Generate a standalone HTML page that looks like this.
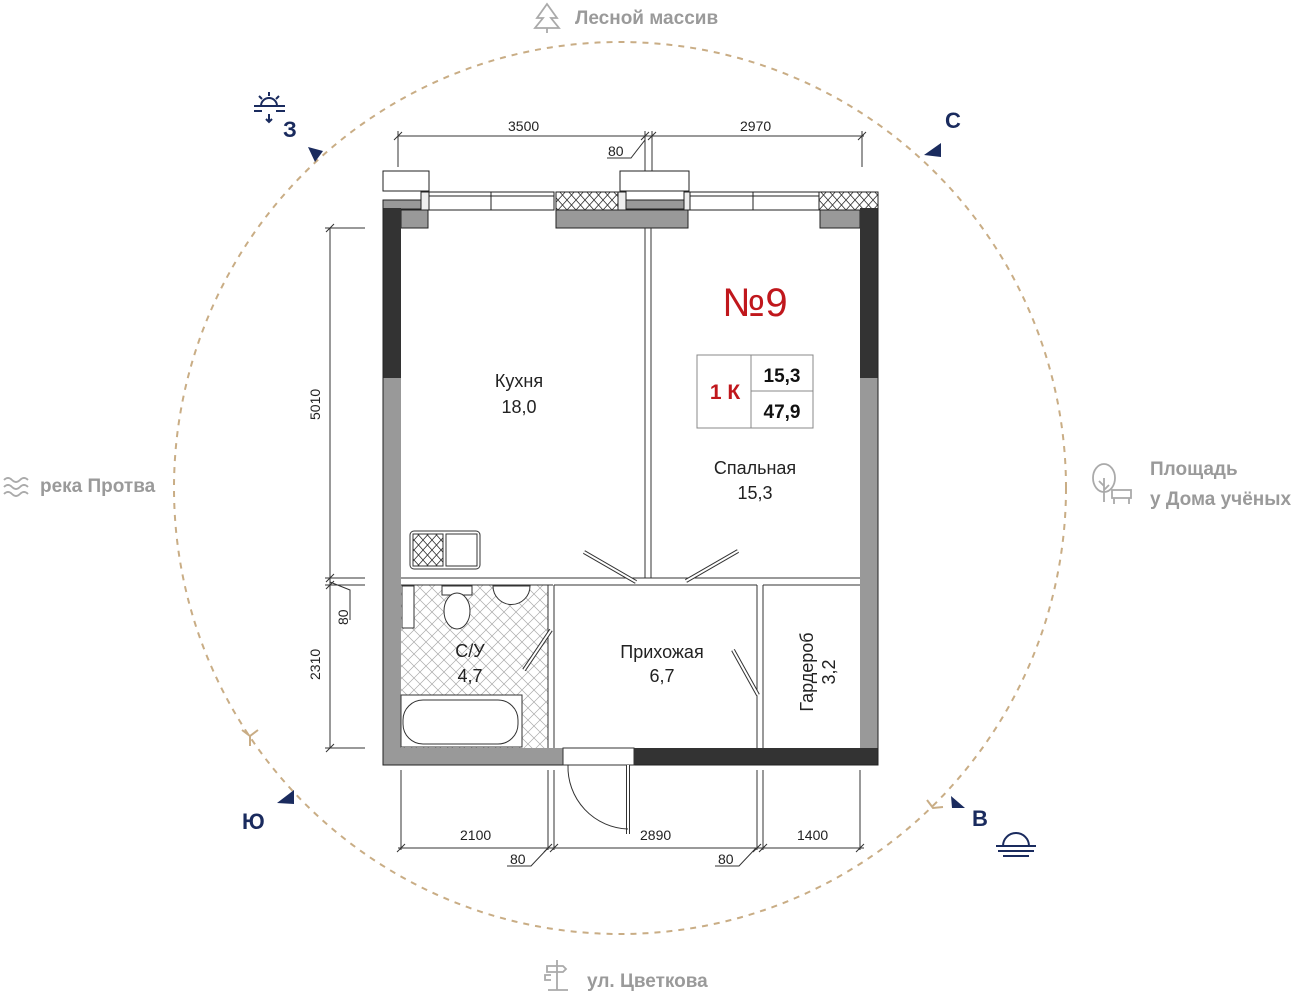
<!DOCTYPE html>
<html><head><meta charset="utf-8"><style>
html,body{margin:0;padding:0;background:#fff;width:1300px;height:995px;overflow:hidden}
svg{display:block}
.lbl{font-family:"Liberation Sans","DejaVu Sans",sans-serif}
</style></head><body>
<svg width="1300" height="995" viewBox="0 0 1300 995" xmlns="http://www.w3.org/2000/svg" class="lbl">
<defs>
<pattern id="hx" width="12" height="12" patternUnits="userSpaceOnUse">
<path d="M0 0L12 12M12 0L0 12" stroke="#aaa" stroke-width="0.7"/>
</pattern>
<pattern id="wx" width="9" height="10" patternUnits="userSpaceOnUse">
<path d="M0 0L9 10M9 0L0 10" stroke="#333" stroke-width="0.8"/>
</pattern>
</defs>
<circle cx="620" cy="488" r="446" fill="none" stroke="#c9ad85" stroke-width="2" stroke-dasharray="6 6"/>
<g fill="#9a9a9a" font-size="19" font-weight="bold">
<text x="575" y="24">Лесной массив</text>
<text x="40" y="492">река Протва</text>
<text x="1150" y="475">Площадь</text>
<text x="1150" y="505">у Дома учёных</text>
<text x="587" y="987">ул. Цветкова</text>
</g>
<g fill="none" stroke="#aaa" stroke-width="1.8">
<path d="M547 4l-10 14h6l-8 10h24l-8-10h6z"/><path d="M547 28v5"/>
<path d="M4 480q4-4 8 0t8 0t8 0M4 487q4-4 8 0t8 0t8 0M4 494q4-4 8 0t8 0t8 0"/>
<ellipse cx="1104" cy="478" rx="11" ry="14"/><path d="M1104 478v24M1104 486l-5-5M1104 490l5-5"/>
<rect x="1112" y="490" width="19" height="8"/><path d="M1114 498v6M1129 498v6"/>
<path d="M557 960v30M547 966h16l3 3-3 3h-16zM551 975h-6v5h6M548 990h20"/>
</g>
<g fill="#1a2b5e" font-weight="bold" font-size="22">
<text x="283" y="137">З</text>
<text x="945" y="128">С</text>
<text x="242" y="829">Ю</text>
<text x="972" y="826">В</text>
</g>
<g fill="#1a2b5e">
<path d="M308 147l15 4-8 11z"/>
<path d="M924 155l17-12 0 14z"/>
<path d="M277 803l17-13 0 14z"/>
<path d="M951 796l14 12h-13z"/>
</g>
<g stroke="#1a2b5e" stroke-width="2" fill="none">
<path d="M261 106a8 8 0 0116 0"/><path d="M254 106h31M254 111h8M276 111h9M269 92v4M259 96l3 3M279 96l-3 3M269 114v8M266 119l3 3 3-3"/>
<path d="M1003 846a13 13 0 0126 0M996 846h40M998 851h36M1003 856h26"/>
</g>
<g stroke="#c9ad85" stroke-width="2" fill="none"><path d="M242 730l8 6 8-6M250 736v10"/><path d="M927 800l6 8 10-1"/></g>

<g stroke="#333" stroke-width="1" fill="none">
<path d="M398 136h466M398 131v36M862 131v36M645 131v60M652 131v60"/>
<path d="M394 140l8-8M641 140l8-8M648 140l8-8M858 140l8-8"/>
<path d="M607 158h24l14-18"/>
<path d="M330 228v520M325 228h40M325 578h40M325 585h40M325 748h40"/>
<path d="M326 232l8-8M326 582l8-8M326 589l8-8M326 752l8-8"/>
<path d="M350 620v-30l-20-8"/>
<path d="M398 848h466M401 770v80M548 770v80M554 770v80M757 770v80M763 770v80M860 770v80"/>
<path d="M397 852l8-8M544 852l8-8M550 852l8-8M753 852l8-8M759 852l8-8M856 852l8-8"/>
<path d="M507 866h24l17-18M715 866h24l17-18"/>
</g>
<g fill="#222" font-size="14">
<text x="508" y="131">3500</text><text x="740" y="131">2970</text><text x="608" y="156">80</text>
<text x="460" y="840">2100</text><text x="640" y="840">2890</text><text x="797" y="840">1400</text>
<text x="510" y="864">80</text><text x="718" y="864">80</text>
<text transform="translate(320 420) rotate(-90)">5010</text>
<text transform="translate(320 680) rotate(-90)">2310</text>
<text transform="translate(348 625) rotate(-90)">80</text>
</g>

<g stroke="#222" stroke-width="1">
<rect x="383" y="171" width="46" height="20" fill="#fff"/>
<rect x="620" y="171" width="69" height="20" fill="#fff"/>
<rect x="383" y="200" width="40" height="9" fill="#999"/>
<rect x="625" y="200" width="60" height="9" fill="#999"/>
<rect x="429" y="192" width="125" height="18" fill="#fff"/>
<path d="M429 196h125M491 192v18"/>
<rect x="556" y="192" width="63" height="18" fill="url(#wx)"/>
<rect x="689" y="192" width="130" height="18" fill="#fff"/>
<path d="M689 196h130M753 192v18"/>
<rect x="819" y="192" width="59" height="18" fill="url(#wx)"/>
<rect x="421" y="192" width="8" height="18" fill="#eee"/><rect x="618" y="192" width="8" height="18" fill="#eee"/><rect x="684" y="192" width="6" height="18" fill="#eee"/>
<rect x="401" y="210" width="27" height="18" fill="#999"/>
<rect x="556" y="210" width="132" height="18" fill="#999"/>
<rect x="820" y="210" width="40" height="18" fill="#999"/>
</g>
<rect x="383" y="208" width="18" height="170" fill="#333"/>
<rect x="383" y="378" width="18" height="370" fill="#999"/>
<rect x="860" y="208" width="18" height="170" fill="#333"/>
<rect x="860" y="378" width="18" height="370" fill="#999"/>
<rect x="383" y="748" width="180" height="17" fill="#999"/>
<rect x="634" y="748" width="244" height="17" fill="#333"/>
<path d="M383 208v557h180M634 765h244V208" stroke="#222" fill="none"/>
<rect x="401" y="585" width="147" height="163" fill="url(#hx)"/>
<g stroke="#333" stroke-width="1" fill="#fff">
<path d="M645 228v350M651 228v350" />
<path d="M401 578h459M401 585h152M763 585h97M554 585h203"/>
<path d="M548 585v163M554 585v163M757 585v163M763 585v163"/>
</g>
<g stroke="#333" stroke-width="1" fill="#fff">
<path d="M584 552l52 30" stroke-width="4"/><path d="M584 552l52 30" stroke="#fff" stroke-width="2"/>
<path d="M738 551l-52 30" stroke-width="4"/><path d="M738 551l-52 30" stroke="#fff" stroke-width="2"/>
<path d="M524 670l27-40" stroke-width="4"/><path d="M524 670l27-40" stroke="#fff" stroke-width="2"/>
<path d="M733 650l25 45" stroke-width="4"/><path d="M733 650l25 45" stroke="#fff" stroke-width="2"/>
<rect x="563" y="748" width="71" height="17" fill="#fff"/>
<path d="M628 765v69" stroke-width="4"/><path d="M628 765v69" stroke="#fff" stroke-width="2"/>
<path d="M568 765a62 62 0 0060 64" fill="none"/>
</g>
<g stroke="#333" stroke-width="1" fill="#fff">
<rect x="410" y="531" width="70" height="38" rx="4"/>
<rect x="413" y="534" width="30" height="32" fill="url(#wx)"/>
<rect x="446" y="534" width="31" height="32"/>
<rect x="402" y="586" width="12" height="42"/>
<rect x="442" y="586" width="30" height="9"/>
<ellipse cx="457" cy="611" rx="13" ry="18"/>
<path d="M493 586h37a18 18 0 01-37 0z"/>
<rect x="401" y="695" width="121" height="52"/>
<rect x="403" y="700" width="115" height="44" rx="20"/>
</g>
<g fill="#222" font-size="18" text-anchor="middle">
<text x="519" y="387">Кухня</text><text x="519" y="413">18,0</text>
<text x="755" y="474">Спальная</text><text x="755" y="499">15,3</text>
<text x="470" y="657">С/У</text><text x="470" y="682">4,7</text>
<text x="662" y="658">Прихожая</text><text x="662" y="682">6,7</text>
<text transform="translate(813 672) rotate(-90)">Гардероб</text>
<text transform="translate(835 672) rotate(-90)">3,2</text>
</g>
<text x="755" y="316" text-anchor="middle" fill="#c0171c" font-size="40">№9</text>
<g stroke="#888" fill="none"><rect x="697" y="355" width="116" height="73"/><path d="M751 355v73M751 391h62"/></g>
<text x="725" y="399" text-anchor="middle" fill="#c0171c" font-size="21" font-weight="bold">1 К</text>
<g fill="#111" font-size="19" font-weight="bold" text-anchor="middle"><text x="782" y="382">15,3</text><text x="782" y="418">47,9</text></g>
</svg>
</body></html>
